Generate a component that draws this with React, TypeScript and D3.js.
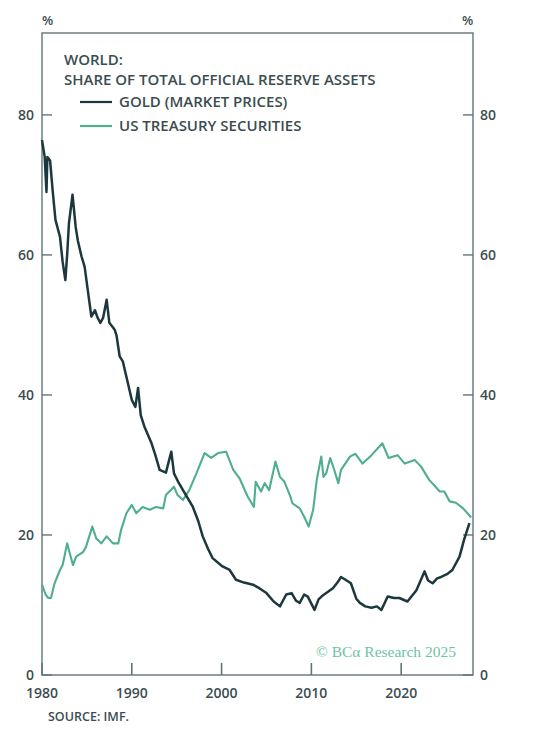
import * as d3 from "d3";

const width = 547;
const height = 738;
const margin = { top: 33, right: 74, bottom: 63, left: 42 };

// decimal years
const goldYears = [
  1980.0, 1980.3, 1980.5, 1980.6, 1980.9, 1981.2, 1981.5, 1982.0, 1982.3, 1982.6,
  1982.8, 1983.0, 1983.4, 1983.75, 1984.0, 1984.4, 1984.75, 1985.2, 1985.5, 1985.9,
  1986.2, 1986.5, 1986.8, 1987.2, 1987.5, 1988.1, 1988.3, 1988.65, 1989.0, 1989.4,
  1990.0, 1990.4, 1990.7, 1991.0, 1991.4, 1992.2, 1992.6, 1993.1, 1993.8, 1994.4,
  1994.7, 1995.2, 1995.7, 1996.8, 1997.4, 1997.9, 1998.5, 1999.0, 2000.1, 2000.9,
  2001.6, 2002.5, 2003.5, 2004.2, 2005.0, 2005.8, 2006.5, 2007.2, 2007.8, 2008.3,
  2008.7, 2009.2, 2009.6, 2010.35, 2010.8, 2011.3, 2012.4, 2012.9, 2013.3, 2013.8,
  2014.4, 2015.0, 2015.4, 2016.0, 2016.7, 2017.3, 2017.8, 2018.5, 2019.2, 2019.8,
  2020.7, 2021.7, 2022.6, 2023.0, 2023.5, 2024.0, 2024.45, 2025.1, 2025.7, 2026.5,
  2027.0, 2027.6,
];
const goldShare = [
  76.4, 74, 69, 74, 73.5, 69, 65, 62.6, 59, 56.4,
  60, 64.5, 68.6, 64, 62, 59.8, 58.3, 54, 51.2, 52.1,
  51, 50.3, 51, 53.6, 50.3, 49.3, 48.5, 45.5, 44.8, 42.6,
  39.3, 38.3, 41, 37.1, 35.5, 33.1, 31.5, 29.3, 28.9, 31.9,
  28.8, 27.5, 26.4, 24, 22, 19.8, 18, 16.7, 15.5, 15,
  13.6, 13.2, 12.9, 12.4, 11.7, 10.5, 9.8, 11.5, 11.7, 10.6,
  10.3, 11.5, 11.2, 9.3, 10.8, 11.4, 12.4, 13.2, 14, 13.6,
  13.1, 10.9, 10.3, 9.8, 9.6, 9.8, 9.3, 11.2, 11, 11,
  10.5, 12.1, 14.8, 13.5, 13.1, 13.8, 14, 14.4, 15, 16.9,
  19.3, 21.7,
];

const treasuryYears = [
  1980.0, 1980.4, 1980.7, 1981.0, 1981.4, 1982.0, 1982.3, 1982.8, 1983.2, 1983.45,
  1983.8, 1984.6, 1984.9, 1985.6, 1986.05, 1986.6, 1987.2, 1987.9, 1988.5, 1988.8,
  1989.4, 1990.0, 1990.5, 1991.2, 1992.0, 1992.7, 1993.5, 1993.8, 1994.7, 1995.1,
  1995.7, 1996.4, 1997.2, 1998.1, 1998.85, 1999.6, 2000.5, 2001.3, 2002.0, 2002.9,
  2003.6, 2003.8, 2004.4, 2004.8, 2005.3, 2006.0, 2006.5, 2007.0, 2007.6, 2007.9,
  2008.7, 2009.2, 2009.7, 2010.2, 2010.6, 2011.1, 2011.35, 2011.65, 2012.1, 2012.5,
  2013.0, 2013.3, 2014.3, 2014.9, 2015.7, 2016.7, 2017.9, 2018.6, 2019.6, 2020.4,
  2021.5, 2022.2, 2023.1, 2024.3, 2024.8, 2025.4, 2026.1, 2026.9, 2027.8,
];
const treasuryShare = [
  12.9, 11.5, 11, 11, 13.1, 15, 15.7, 18.8, 16.9, 15.7,
  16.9, 17.6, 18.3, 21.2, 19.5, 18.8, 19.8, 18.8, 18.8, 20.7,
  23.1, 24.3, 23.1, 24, 23.6, 24, 23.8, 25.7, 26.9, 25.7,
  25, 26.4, 28.8, 31.7, 31, 31.7, 31.9, 29.3, 28.1, 25.5,
  24, 27.6, 26.2, 27.4, 26.4, 30.5, 28.3, 27.6, 25.7, 24.5,
  23.8, 22.6, 21.2, 23.6, 27.9, 31.2, 28.3, 28.8, 31, 29.5,
  27.4, 29.3, 31.2, 31.6, 30.2, 31.4, 33.1, 31, 31.4, 30.2,
  30.7, 29.8, 27.9, 26.2, 26.2, 24.8, 24.6, 23.8, 22.5,
];

const yTicks = [0, 20, 40, 60, 80];
const xTicks = [1980, 1990, 2000, 2010, 2020];

const titleLines = ["WORLD:", "SHARE OF TOTAL OFFICIAL RESERVE ASSETS"];
const seriesNames = ["GOLD (MARKET PRICES)", "US TREASURY SECURITIES"];
const seriesColors = ["#1c383d", "#4fae8e"];

const textColor = "#3b4d51";
const frameColor = "#617579";
const font = "'Open Sans', 'Noto Sans', sans-serif";

const App = () => {
  const x = d3.scaleLinear().domain([1980, 2028]).range([margin.left, width - margin.right]);
  const y = d3.scaleLinear().domain([0, 91.7]).range([height - margin.bottom, margin.top]);

  const line = d3
    .line<[number, number]>()
    .x(d => x(d[0]))
    .y(d => y(d[1]));

  const goldPath = line(goldYears.map((yr, i) => [yr, goldShare[i]]));
  const treasuryPath = line(treasuryYears.map((yr, i) => [yr, treasuryShare[i]]));

  const x0 = x.range()[0];
  const x1 = x.range()[1];
  const yb = y(0);
  const yt = y.range()[1];

  return (
    <svg
      width={width}
      height={height}
      viewBox={`0 0 ${width} ${height}`}
      style={{ position: "absolute", left: 0, top: 0, background: "#fff" }}
      fontFamily={font}
    >
      {/* frame */}
      <rect x={x0} y={yt} width={x1 - x0} height={yb - yt} fill="none" stroke={frameColor} strokeWidth={1.4} />

      {/* y ticks, both sides, pointing inward */}
      {yTicks.map(t => (
        <g key={t}>
          <line x1={x0} x2={x0 + 10} y1={y(t)} y2={y(t)} stroke={frameColor} strokeWidth={1.4} />
          <line x1={x1 - 10} x2={x1} y1={y(t)} y2={y(t)} stroke={frameColor} strokeWidth={1.4} />
          <text x={x0 - 8} y={y(t)} dy="0.36em" textAnchor="end" fontSize={14} fontWeight={600} fill={textColor}>{t}</text>
          <text x={x1 + 7} y={y(t)} dy="0.36em" textAnchor="start" fontSize={14} fontWeight={600} fill={textColor}>{t}</text>
        </g>
      ))}
      <text x={47.5} y={25} textAnchor="middle" fontSize={13} fontWeight={600} fill={textColor}>%</text>
      <text x={467.5} y={25} textAnchor="middle" fontSize={13} fontWeight={600} fill={textColor}>%</text>

      {/* x ticks */}
      {xTicks.map(t => (
        <g key={t}>
          <line x1={x(t)} x2={x(t)} y1={yb} y2={yb - 12} stroke={frameColor} strokeWidth={1.6} />
          <text x={x(t)} y={698} textAnchor="middle" fontSize={14} fontWeight={600} fill={textColor}>{t}</text>
        </g>
      ))}

      {/* series */}
      <path d={treasuryPath ?? ""} fill="none" stroke={seriesColors[1]} strokeWidth={2.1} strokeLinejoin="round" />
      <path d={goldPath ?? ""} fill="none" stroke={seriesColors[0]} strokeWidth={2.5} strokeLinejoin="round" />

      {/* title + legend */}
      {titleLines.map((t, i) => (
        <text key={t} x={64} y={65 + i * 20} fontSize={15} fontWeight={600} fill={textColor}>{t}</text>
      ))}
      {seriesNames.map((s, i) => (
        <g key={s}>
          <line x1={80} x2={112} y1={102 + i * 24} y2={102 + i * 24} stroke={seriesColors[i]} strokeWidth={2.2} />
          <text x={119} y={102 + i * 24} dy="0.36em" fontSize={15} fontWeight={600} fill={textColor}>{s}</text>
        </g>
      ))}

      {/* watermark */}
      <text x={456} y={657} textAnchor="end" fontSize={15.5} fontFamily="'Liberation Serif', 'DejaVu Serif', serif" fill="#6cc4a4">
        © BCα Research 2025
      </text>

      <text x={48} y={721} fontSize={12.5} fontWeight={600} fill={textColor}>SOURCE: IMF.</text>
    </svg>
  );
};

export default App;
